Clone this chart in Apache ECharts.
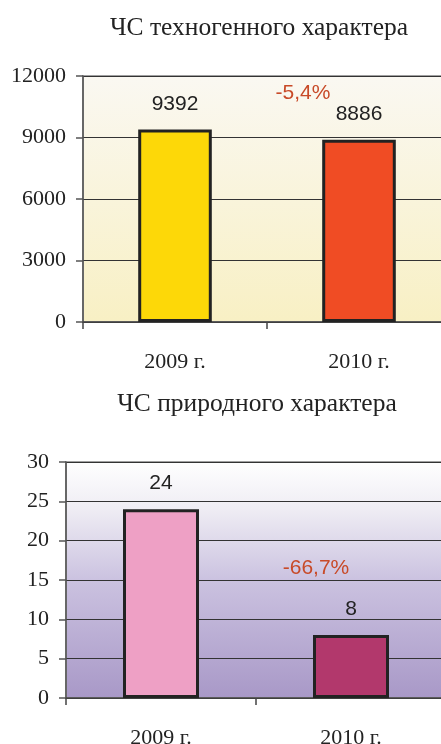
<!DOCTYPE html>
<html>
<head>
<meta charset="utf-8">
<title>ЧС</title>
<script src="https://cdn.jsdelivr.net/npm/echarts@6/dist/echarts.min.js"></script>
<style>
  body { margin: 0; background: #fff; }
  #chart { width: 441px; height: 744px; }
</style>
</head>
<body>
<div id="chart"></div>
<script>
  // данные
  var years = ['2009 г.', '2010 г.'];
  var techValues = [9392, 8886];
  var natureValues = [24, 8];
  var techColors = ['#fdd808', '#f04c24'];
  var natureColors = ['#eea0c5', '#b2386c'];
  var changeLabels = ['-5,4%', '-66,7%'];
  var changeLevels = [11170, 16.5];
  var techTicks = [0, 12000, 3000];
  var natureTicks = [0, 30, 5];

  var serif = '"Liberation Serif", "Times New Roman", serif';
  var sans = '"Liberation Sans", Arial, sans-serif';

  function barData(values, colors) {
    var _ = [];
    values.forEach(function (v, i) {
      _.push({ value: v, itemStyle: { color: colors[i] } });
    });
    return _;
  }

  function gradient(stops) {
    return new echarts.graphic.LinearGradient(0, 0, 0, 1, stops);
  }

  function xAxisOpt(gridIndex) {
    return {
      type: 'category',
      gridIndex: gridIndex,
      data: years,
      axisLine: { lineStyle: { color: '#444', width: 1.5 } },
      axisTick: { show: true, length: 7, lineStyle: { color: '#444', width: 1.5 } },
      axisLabel: { color: '#222', fontFamily: serif, fontSize: 22, margin: 29 }
    };
  }

  function yAxisOpt(gridIndex, ticks) {
    return {
      type: 'value',
      gridIndex: gridIndex,
      min: ticks[0],
      max: ticks[1],
      interval: ticks[2],
      axisLine: { show: true, lineStyle: { color: '#555', width: 1.5 } },
      axisTick: { show: true, length: 7, lineStyle: { color: '#555', width: 1.5 } },
      axisLabel: {
        color: '#222', fontFamily: serif, fontSize: 22, margin: 17,
        formatter: function (v) { return String(v); }
      },
      splitLine: { show: true, lineStyle: { color: '#333', width: 1 } }
    };
  }

  function barSeries(idx, values, colors) {
    return {
      type: 'bar',
      xAxisIndex: idx,
      yAxisIndex: idx,
      barWidth: '40%',
      data: barData(values, colors),
      itemStyle: { borderColor: '#222', borderWidth: 3 },
      label: {
        show: true,
        position: 'top',
        distance: 15,
        color: '#222',
        fontFamily: sans,
        fontSize: 21
      },
      markPoint: {
        symbol: 'circle',
        symbolSize: 1,
        itemStyle: { color: 'rgba(0,0,0,0)' },
        data: [{ coord: [years[1], changeLevels[idx]] }],
        label: {
          show: true,
          position: 'inside',
          formatter: changeLabels[idx],
          color: '#c84a28',
          fontFamily: sans,
          fontSize: 21,
          offset: idx === 0 ? [-56, 0] : [-35, 0]
        }
      }
    };
  }

  var chart = echarts.init(document.getElementById('chart'));
  chart.setOption({
    animation: false,
    title: [
      {
        text: 'ЧС техногенного характера',
        left: 254, top: 10, textAlign: 'center',
        textStyle: { color: '#222', fontFamily: serif, fontSize: 25.5, fontWeight: 'normal' }
      },
      {
        text: 'ЧС природного характера',
        left: 252, top: 386, textAlign: 'center',
        textStyle: { color: '#222', fontFamily: serif, fontSize: 25.5, fontWeight: 'normal' }
      }
    ],
    grid: [
      {
        left: 83, top: 76, width: 368, height: 246,
        outerBoundsMode: 'none',
        show: true, borderColor: '#a0a0a0', borderWidth: 2,
        backgroundColor: gradient([
          { offset: 0, color: '#faf8f2' },
          { offset: 1, color: '#f8f0c4' }
        ])
      },
      {
        left: 66, top: 462, width: 380, height: 236,
        outerBoundsMode: 'none',
        show: true, borderColor: '#a0a0a0', borderWidth: 2,
        backgroundColor: gradient([
          { offset: 0, color: '#ffffff' },
          { offset: 0.2, color: '#efedf4' },
          { offset: 0.5, color: '#cbc2e0' },
          { offset: 1, color: '#a898c7' }
        ])
      }
    ],
    xAxis: [xAxisOpt(0), xAxisOpt(1)],
    yAxis: [yAxisOpt(0, techTicks), yAxisOpt(1, natureTicks)],
    series: [
      barSeries(0, techValues, techColors),
      barSeries(1, natureValues, natureColors)
    ]
  });
</script>
</body>
</html>
